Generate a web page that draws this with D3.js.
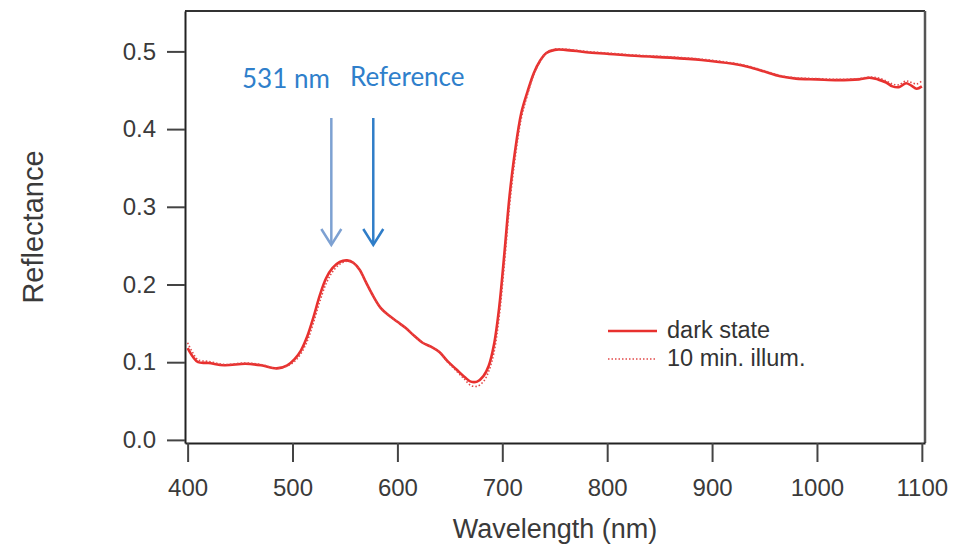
<!DOCTYPE html>
<html>
<head>
<meta charset="utf-8">
<script src="https://cdn.jsdelivr.net/npm/d3@7"></script>
<style>
  body { margin: 0; background: #fff; }
  text { font-family: "Liberation Sans", Arial, sans-serif; }
</style>
</head>
<body>
<script>

// wavelengths (nm)
var wavelengths = [400, 405, 410, 420, 435, 455, 470, 485, 495, 502, 508, 514, 520, 526, 532, 538, 545, 552,
  558, 564, 570, 577, 584, 592, 600, 608, 616, 624, 632, 640, 648, 656, 664, 670, 676, 682, 687, 692, 697,
  702, 707, 712, 718, 724, 730, 736, 742, 750, 760, 780, 800, 830, 860, 890, 920, 935, 950, 965, 980, 1000,
  1020, 1040, 1050, 1058, 1066, 1072, 1078, 1085, 1090, 1095, 1100];

// reflectance, dark state
var darkState = [0.118, 0.107, 0.100, 0.099, 0.096, 0.098, 0.096, 0.092, 0.096, 0.104, 0.115, 0.133, 0.158,
  0.186, 0.208, 0.221, 0.229, 0.231, 0.228, 0.219, 0.203, 0.185, 0.170, 0.160, 0.152, 0.144, 0.134, 0.125,
  0.120, 0.113, 0.101, 0.091, 0.081, 0.075, 0.075, 0.082, 0.095, 0.122, 0.170, 0.240, 0.315, 0.370, 0.420,
  0.448, 0.472, 0.488, 0.498, 0.502, 0.502, 0.499, 0.497, 0.494, 0.492, 0.489, 0.484, 0.480, 0.474, 0.468,
  0.465, 0.464, 0.463, 0.464, 0.466, 0.464, 0.460, 0.455, 0.454, 0.459, 0.456, 0.452, 0.455];

// reflectance, 10 min. illumination
var illum = [0.125, 0.112, 0.103, 0.101, 0.097, 0.099, 0.097, 0.092, 0.095, 0.101, 0.111, 0.127, 0.151,
  0.178, 0.201, 0.216, 0.226, 0.230, 0.228, 0.219, 0.203, 0.185, 0.170, 0.160, 0.152, 0.144, 0.134, 0.125,
  0.120, 0.113, 0.100, 0.089, 0.078, 0.070, 0.069, 0.075, 0.088, 0.112, 0.158, 0.226, 0.302, 0.360, 0.413,
  0.444, 0.470, 0.487, 0.498, 0.503, 0.503, 0.500, 0.498, 0.495, 0.493, 0.490, 0.485, 0.481, 0.475, 0.469,
  0.466, 0.465, 0.464, 0.465, 0.467, 0.466, 0.462, 0.458, 0.457, 0.462, 0.460, 0.458, 0.462];

var xTicks = [400, 500, 600, 700, 800, 900, 1000, 1100];
var yTicks = [0.0, 0.1, 0.2, 0.3, 0.4, 0.5];

// arrow annotations: label and where the arrow points
var arrowLabels = ["531 nm", "Reference"];
var arrowAt = [537, 577];
var arrowColors = ["#7da1d2", "#2f7dc8"];

var seriesNames = ["dark state", "10 min. illum."];

function draw(){

    var width = 976, height = 554;
    var margin = {left: 185, right: 925, top: 11, bottom: 443};

    var svg = d3.select("body")
                .append("svg")
                .attr("width", width)
                .attr("height", height);

    // scales
    var x = d3.scaleLinear()
              .domain([397.5, 1103])
              .range([margin.left, margin.right]);

    var y = d3.scaleLinear()
              .domain([-0.004, 0.552])
              .range([margin.bottom, margin.top]);

    // frame top and right
    svg.append("line")
       .attr("x1", margin.left).attr("x2", margin.right)
       .attr("y1", margin.top).attr("y2", margin.top)
       .style("stroke", "#333").style("stroke-width", 2);

    svg.append("line")
       .attr("x1", margin.right).attr("x2", margin.right)
       .attr("y1", margin.top).attr("y2", margin.bottom)
       .style("stroke", "#555").style("stroke-width", 2.5);

    // axes
    var xAxis = svg.append("g")
       .attr("transform", "translate(0," + margin.bottom + ")")
       .call(d3.axisBottom(x).tickValues(xTicks).tickFormat(d3.format("d"))
               .tickSize(19).tickPadding(17).tickSizeOuter(0));

    var yAxis = svg.append("g")
       .attr("transform", "translate(" + margin.left + ",0)")
       .call(d3.axisLeft(y).tickValues(yTicks).tickFormat(d3.format(".1f"))
               .tickSize(18).tickPadding(11).tickSizeOuter(0));

    [xAxis, yAxis].forEach(function(a){
      a.select(".domain").style("stroke", "#222").style("stroke-width", 2);
      a.selectAll(".tick line").style("stroke", "#444").style("stroke-width", 2);
      a.selectAll(".tick text")
       .style("font-family", "Liberation Sans, Arial, sans-serif")
       .style("font-size", "24px")
       .style("fill", "#3a3a3a");
    });

    // axis titles
    svg.append("text")
       .attr("x", (margin.left + margin.right) / 2)
       .attr("y", 538)
       .style("text-anchor", "middle")
       .style("font-size", "27px")
       .style("fill", "#3a3a3a")
       .text("Wavelength (nm)");

    svg.append("text")
       .attr("transform", "translate(43," + (margin.top + margin.bottom) / 2 + ")rotate(-90)")
       .style("text-anchor", "middle")
       .style("font-size", "29px")
       .style("fill", "#3a3a3a")
       .text("Reflectance");

    // lines
    var line = function(values) {
      return d3.line()
               .x(function(d, i) { return x(wavelengths[i]); })
               .y(function(d) { return y(d); })
               .curve(d3.curveCatmullRom.alpha(0.5))(values);
    };

    svg.append("path")
       .attr("d", line(darkState))
       .style("fill", "none")
       .style("stroke", "#e8302e")
       .style("stroke-width", 2.6);

    svg.append("path")
       .attr("d", line(illum))
       .style("fill", "none")
       .style("stroke", "#e24848")
       .style("stroke-width", 1.6)
       .style("stroke-dasharray", "1.5,2");

    // arrows and labels
    arrowAt.forEach(function(w, i){
      var ax = x(w);
      svg.append("line")
         .attr("x1", ax).attr("x2", ax)
         .attr("y1", 118).attr("y2", 244)
         .style("stroke", arrowColors[i]).style("stroke-width", 2.5);
      svg.append("polyline")
         .attr("points", (ax - 10) + ",229 " + ax + ",245 " + (ax + 10) + ",229")
         .style("fill", "none")
         .style("stroke", arrowColors[i]).style("stroke-width", 2.5);
    });

    svg.append("text")
       .attr("x", 242).attr("y", 88)
       .style("font-family", "Lato, sans-serif")
       .style("font-size", "26px")
       .style("fill", "#2f7fcb")
       .text(arrowLabels[0]);

    svg.append("text")
       .attr("x", 350).attr("y", 86)
       .style("font-family", "Lato, sans-serif")
       .style("font-size", "26px")
       .style("fill", "#2f7fcb")
       .text(arrowLabels[1]);

    // legend
    var legend = svg.append("g");

    legend.append("line")
          .attr("x1", 608).attr("x2", 657)
          .attr("y1", 331).attr("y2", 331)
          .style("stroke", "#e8302e").style("stroke-width", 2.6);

    legend.append("line")
          .attr("x1", 608).attr("x2", 657)
          .attr("y1", 359).attr("y2", 359)
          .style("stroke", "#e24848").style("stroke-width", 1.6)
          .style("stroke-dasharray", "1.5,2");

    legend.selectAll("text.name")
          .data(seriesNames)
          .enter().append("text")
          .attr("class", "name")
          .attr("x", 667)
          .attr("y", function(d, i) { return 338 + i * 28; })
          .style("font-size", "23.5px")
          .style("fill", "#333")
          .text(function(d) { return d; });
}

draw();

</script>
</body>
</html>
